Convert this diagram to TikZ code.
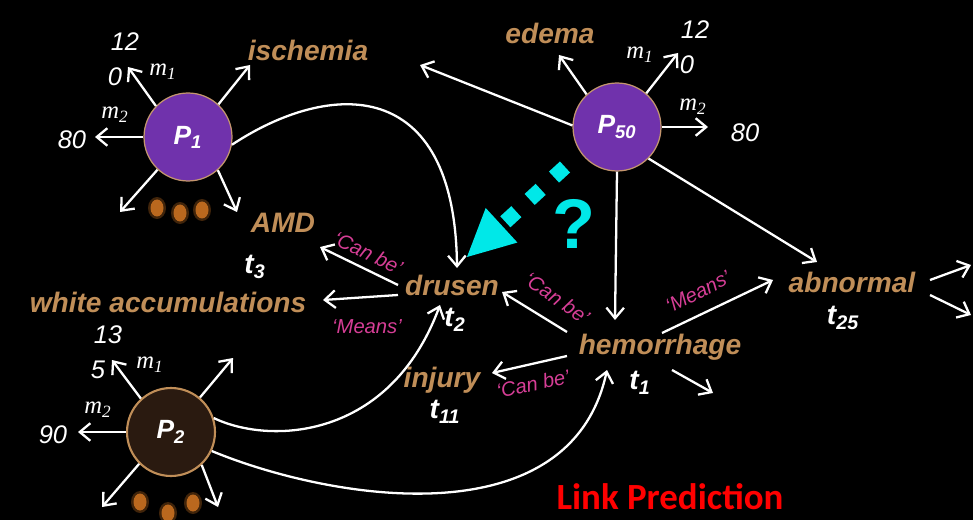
\documentclass[tikz,border=0pt]{standalone}
\usepackage{fontspec}
\setmainfont{Liberation Sans}
\newfontfamily\serifm{Liberation Serif}
\newfontfamily\calib{Carlito}
\usetikzlibrary{arrows.meta}
\definecolor{termcol}{RGB}{192,142,88}
\definecolor{relcol}{RGB}{214,62,150}
\definecolor{cyanc}{RGB}{0,232,232}
\definecolor{pcirc}{RGB}{112,50,172}
\definecolor{pbord}{RGB}{196,150,110}
\definecolor{ptwofill}{RGB}{42,26,16}
\definecolor{dotcol}{RGB}{186,104,30}
\begin{document}
\begin{tikzpicture}[x=0.02cm,y=-0.02cm,
  term/.style={text=termcol, font=\fontsize{16}{16}\selectfont\bfseries\itshape, inner sep=1pt},
  tlab/.style={text=white, font=\fontsize{16}{16}\selectfont\bfseries\itshape, inner sep=1pt},
  rel/.style={text=relcol, font=\fontsize{11.5}{11.5}\selectfont\itshape, inner sep=1pt},
  num/.style={text=white, font=\fontsize{14.5}{14.5}\selectfont\itshape, inner sep=1pt},
  mlab/.style={text=white, font=\serifm\fontsize{14}{14}\selectfont\itshape, inner sep=1pt},
  arr/.style={draw=white, line width=1.3pt, -{Straight Barb[length=6pt,width=10pt]}},
  pnode/.style={circle, minimum size=1.76cm, inner sep=0pt, draw=pbord, line width=0.7pt, text=white, font=\fontsize{15}{15}\selectfont\bfseries\itshape},
  odot/.style={fill=dotcol},
  halo/.style={fill=dotcol, opacity=0.35}]
\useasboundingbox (0,0) rectangle (973,520);
\fill[black] (0,0) rectangle (973,520);

% property nodes
\node[pnode, fill=pcirc] (P1) at (188,137) {P\textsubscript{1}};
\node[pnode, fill=pcirc] (P50) at (617,127) {P\textsubscript{50}};
\node[pnode, fill=ptwofill, draw=termcol, line width=1.2pt] (P2) at (171,432) {P\textsubscript{2}};

% terms
\node[term] (isch) at (308,50) {ischemia};
\node[term] (edema) at (550,33) {edema};
\node[term] (amd) at (283,223) {AMD};
\node[term] (whiteacc) at (168,302) {white accumulations};
\node[term] (drusen) at (452,285) {drusen};
\node[term] (injury) at (442,380) {injury};
\node[term] (hem) at (660,347) {hemorrhage};
\node[term] (abn) at (852,282) {abnormal};

\node[tlab] (t3) at (255,267) {t\textsubscript{3}};
\node[tlab] (t2) at (455,320) {t\textsubscript{2}};
\node[tlab] (t11) at (445,412) {t\textsubscript{11}};
\node[tlab] (t1) at (640,383) {t\textsubscript{1}};
\node[tlab] (t25) at (843,318) {t\textsubscript{25}};

% numbers and m labels
\node[num] (n1a) at (125,42) {12};
\node[num] (n1b) at (115,77) {0};
\node[num] (n1c) at (72,140) {80};
\node[mlab] (m1a) at (163,72) {m\textsubscript{1}};
\node[mlab] (m1b) at (115,115) {m\textsubscript{2}};
\node[num] (n50a) at (695,30) {12};
\node[num] (n50b) at (687,65) {0};
\node[num] (n50c) at (745,133) {80};
\node[mlab] (m50a) at (640,55) {m\textsubscript{1}};
\node[mlab] (m50b) at (693,107) {m\textsubscript{2}};
\node[num] (n2a) at (108,335) {13};
\node[num] (n2b) at (98,370) {5};
\node[num] (n2c) at (53,435) {90};
\node[mlab] (m2a) at (150,365) {m\textsubscript{1}};
\node[mlab] (m2b) at (98,410) {m\textsubscript{2}};

% end coordinates
\coordinate (e1a) at (128,67);
\coordinate (e1b) at (250,65);
\coordinate (e1c) at (95,137);
\coordinate (e1d) at (120,212);
\coordinate (e1e) at (237,212);
\coordinate (e50a) at (559,55);
\coordinate (e50b) at (678,53);
\coordinate (e50c) at (708,127);
\coordinate (e50isch) at (420,65);
\coordinate (e50hem) at (615,320);
\coordinate (e50abn) at (817,262);
\coordinate (e2a) at (112,360);
\coordinate (e2b) at (233,358);
\coordinate (e2c) at (78,432);
\coordinate (e2d) at (102,507);
\coordinate (e2e) at (218,507);
\coordinate (c1end) at (457,268);
\coordinate (c2end) at (440,305);
\coordinate (c3end) at (607,370);
\coordinate (dsa) at (398,285);
\coordinate (dsae) at (320,247);
\coordinate (dsb) at (398,295);
\coordinate (dsbe) at (323,300);
\coordinate (hsa) at (567,332);
\coordinate (hsae) at (502,292);
\coordinate (hsb) at (662,333);
\coordinate (hsbe) at (773,280);
\coordinate (hsc) at (567,356);
\coordinate (hsce) at (492,373);
\coordinate (hsd) at (672,370);
\coordinate (hsde) at (713,393);
\coordinate (asa) at (930,280);
\coordinate (asae) at (971,265);
\coordinate (asb) at (930,295);
\coordinate (asbe) at (971,315);
\coordinate (qs) at (565,167);
\coordinate (qt) at (467,257);

% P1 arrows
\draw[arr] (P1.136) -- (e1a);
\draw[arr] (P1.47) -- (e1b);
\draw[arr] (P1.180) -- (e1c);
\draw[arr] (P1.227) -- (e1d);
\draw[arr] (P1.312) -- (e1e);
% P50 arrows
\draw[arr] (P50.133) -- (e50a);
\draw[arr] (P50.49) -- (e50b);
\draw[arr] (P50.0) -- (e50c);
\draw[arr] (P50.178) -- (e50isch);
\draw[arr] (P50.270) -- (e50hem);
\draw[arr] (P50.315) -- (e50abn);
% P2 arrows
\draw[arr] (P2.132) -- (e2a);
\draw[arr] (P2.50) -- (e2b);
\draw[arr] (P2.180) -- (e2c);
\draw[arr] (P2.225) -- (e2d);
\draw[arr] (P2.313) -- (e2e);

% curves
\draw[arr] (P1.350) .. controls (330,80) and (455,75) .. (c1end);
\draw[arr] (P2.18) .. controls (270,445) and (390,440) .. (c2end);
\draw[arr] (P2.335) .. controls (330,500) and (570,540) .. (c3end);

% relation arrows
\draw[arr] (dsa) -- (dsae);
\draw[arr] (dsb) -- (dsbe);
\draw[arr] (hsa) -- (hsae);
\draw[arr] (hsb) -- (hsbe);
\draw[arr] (hsc) -- (hsce);
\draw[arr] (hsd) -- (hsde);
\draw[arr] (asa) -- (asae);
\draw[arr] (asb) -- (asbe);

\node[rel, rotate=-26] (r1) at (368,253) {‘Can be’};
\node[rel] (r2) at (367,327) {‘Means’};
\node[rel, rotate=-35] (r3) at (557,298) {‘Can be’};
\node[rel, rotate=27] (r4) at (698,292) {‘Means’};
\node[rel, rotate=12] (r5) at (533,384) {‘Can be’};

% dots
\foreach \dx/\dy in {157/208, 180/213, 202/210, 140/502, 168/513, 193/503}{
  \fill[halo] (\dx,\dy) ellipse (9 and 11);
  \fill[odot] (\dx,\dy) ellipse (6.5 and 8.5);
}

% predicted link
\draw[cyanc, line width=8.5pt, line cap=butt, dash pattern=on 8.5pt off 10.3pt,
  -{Triangle[length=26.7pt,width=26.7pt,line width=0pt]}] (qs) -- (qt);
\node[text=cyanc, font=\fontsize{40}{40}\selectfont\bfseries] (q) at (574,224) {?};

\node[text=red, font=\calib\bfseries\fontsize{21}{21}\selectfont] (lp) at (670,497) {Link Prediction};
\end{tikzpicture}
\end{document}
